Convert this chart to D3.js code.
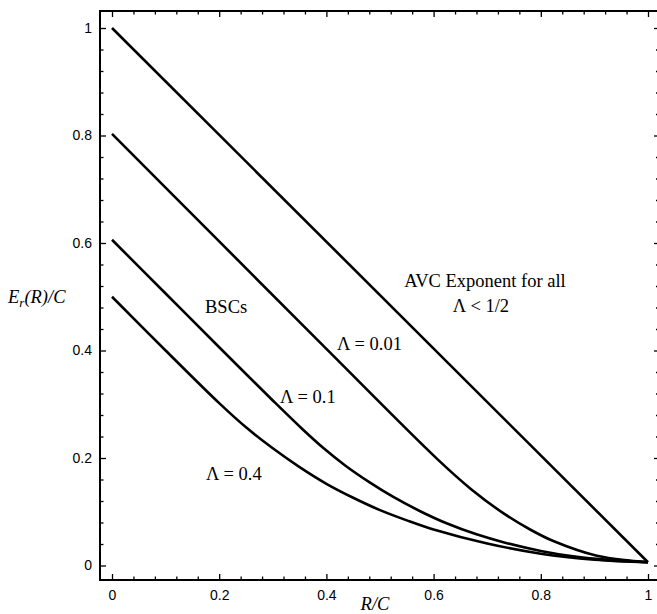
<!DOCTYPE html>
<html>
<head>
<meta charset="utf-8">
<script src="https://cdn.jsdelivr.net/npm/d3@7"></script>
<style>
  body { margin: 0; background: #fff; }
  svg { display: block; }
  .tick text { font-family: "Liberation Sans", Arial, sans-serif; font-size: 14px; fill: #000; }
  .lbl { font-family: "Liberation Serif", "Times New Roman", serif; font-size: 18.5px; fill: #000; }
</style>
</head>
<body>
<svg></svg>
<script>
// chart size, same as the window
const size = {w: 657, h: 614};
const svg = d3.select('svg').attr('width', size.w).attr('height', size.h);

// curve values (R/C on x, Er(R)/C on y)
const avcRate = [0, 1];
const avcExp  = [1, 0.006];

const bsc001Rate = [0, 0.2, 0.4, 0.608, 0.67, 0.732, 0.78, 0.8245, 0.9047, 0.9658, 1];
const bsc001Exp  = [0.803, 0.603, 0.403, 0.197, 0.142, 0.096, 0.067, 0.045, 0.018, 0.009, 0.006];

const bsc01Rate = [0, 0.1, 0.2, 0.3, 0.355, 0.395, 0.435, 0.48, 0.524, 0.575, 0.623, 0.68, 0.735, 0.8, 0.86, 0.93, 1];
const bsc01Exp  = [0.606, 0.506, 0.406, 0.307, 0.254, 0.218, 0.186, 0.155, 0.128, 0.101, 0.079, 0.058, 0.042, 0.027, 0.017, 0.01, 0.006];

const bsc04Rate = [0, 0.1, 0.2, 0.25, 0.3, 0.35, 0.4, 0.45, 0.5, 0.55, 0.6, 0.7, 0.8, 0.9, 1];
const bsc04Exp  = [0.5, 0.4, 0.302, 0.257, 0.218, 0.183, 0.152, 0.126, 0.103, 0.084, 0.067, 0.041, 0.022, 0.011, 0.006];

const majorTicks = [0, 0.2, 0.4, 0.6, 0.8, 1];
const tickLabels = ['0', '0.2', '0.4', '0.6', '0.8', '1'];

// scales: data 0..1 maps inside a slightly bigger frame
const x = d3.scaleLinear().domain([0, 1]).range([112, 648]);
const y = d3.scaleLinear().domain([0, 1]).range([565.5, 28]);
const frame = {l: 100, r: 662, t: 11, b: 580};

const minorTicks = d3.range(0, 1.0001, 0.04).filter(v => !majorTicks.some(m => Math.abs(m - v) < 1e-6));

// frame lines (right edge falls just outside the window)
svg.append('path')
  .attr('d', `M${frame.r},${frame.t}H${frame.l}V${frame.b}H${frame.r}V${frame.t}`)
  .attr('fill', 'none').attr('stroke', '#000').attr('stroke-width', 2);

// ticks on all four sides, pointing inward
function ticks(axisFn, scale, vals, len, labels, tr) {
  let ax = axisFn(scale).tickValues(vals).tickSize(len).tickPadding(8);
  ax.tickFormat(labels ? (d, i) => labels[i] : () => '');
  let g = svg.append('g').attr('transform', tr).call(ax);
  g.select('.domain').remove();
  g.selectAll('line').attr('stroke', '#000').attr('stroke-width', 1.3);
  return g;
}
let yl = ticks(d3.axisLeft, y, majorTicks, -6, tickLabels, `translate(${frame.l},0)`);
yl.selectAll('text').attr('x', -8);
ticks(d3.axisLeft, y, minorTicks, -3.5, null, `translate(${frame.l},0)`);
let xb = ticks(d3.axisBottom, x, majorTicks, -6, tickLabels, `translate(0,${frame.b})`);
xb.selectAll('text').attr('y', 10);
ticks(d3.axisBottom, x, minorTicks, -3.5, null, `translate(0,${frame.b})`);
ticks(d3.axisTop, x, majorTicks, -6, null, `translate(0,${frame.t})`);
ticks(d3.axisTop, x, minorTicks, -3.5, null, `translate(0,${frame.t})`);
ticks(d3.axisRight, y, majorTicks, -5, null, `translate(659,0)`);
ticks(d3.axisRight, y, minorTicks, -3, null, `translate(659,0)`);

// curves
const line = d3.line().x(d => x(d[0])).y(d => y(d[1])).curve(d3.curveCatmullRom.alpha(0.5));
const curves = [
  d3.zip(avcRate, avcExp),
  d3.zip(bsc001Rate, bsc001Exp),
  d3.zip(bsc01Rate, bsc01Exp),
  d3.zip(bsc04Rate, bsc04Exp)
];
svg.selectAll('path.curve').data(curves).enter().append('path')
  .classed('curve', true)
  .attr('d', line)
  .attr('fill', 'none').attr('stroke', '#000').attr('stroke-width', 2.6)
  .attr('stroke-linejoin', 'round');

// text labels inside the plot
function label(px, py, txt, anchor) {
  return svg.append('text').classed('lbl', true)
    .attr('x', px).attr('y', py).attr('text-anchor', anchor || 'start').text(txt);
}
label(485, 287, 'AVC Exponent for all', 'middle');
label(481, 312, 'Λ < 1/2', 'middle');
label(205, 313, 'BSCs');
label(337, 350, 'Λ = 0.01');
label(280, 403, 'Λ = 0.1');
label(206, 480, 'Λ = 0.4');

// axis titles in italics
let yt = svg.append('text').classed('lbl', true).attr('x', 8).attr('y', 303).style('font-style', 'italic');
yt.append('tspan').text('E');
yt.append('tspan').text('r').attr('dy', 4).style('font-size', '13px');
yt.append('tspan').text('(R)/C').attr('dy', -4);
svg.append('text').classed('lbl', true).attr('x', 375).attr('y', 610)
  .attr('text-anchor', 'middle').style('font-style', 'italic').text('R/C');
</script>
</body>
</html>
